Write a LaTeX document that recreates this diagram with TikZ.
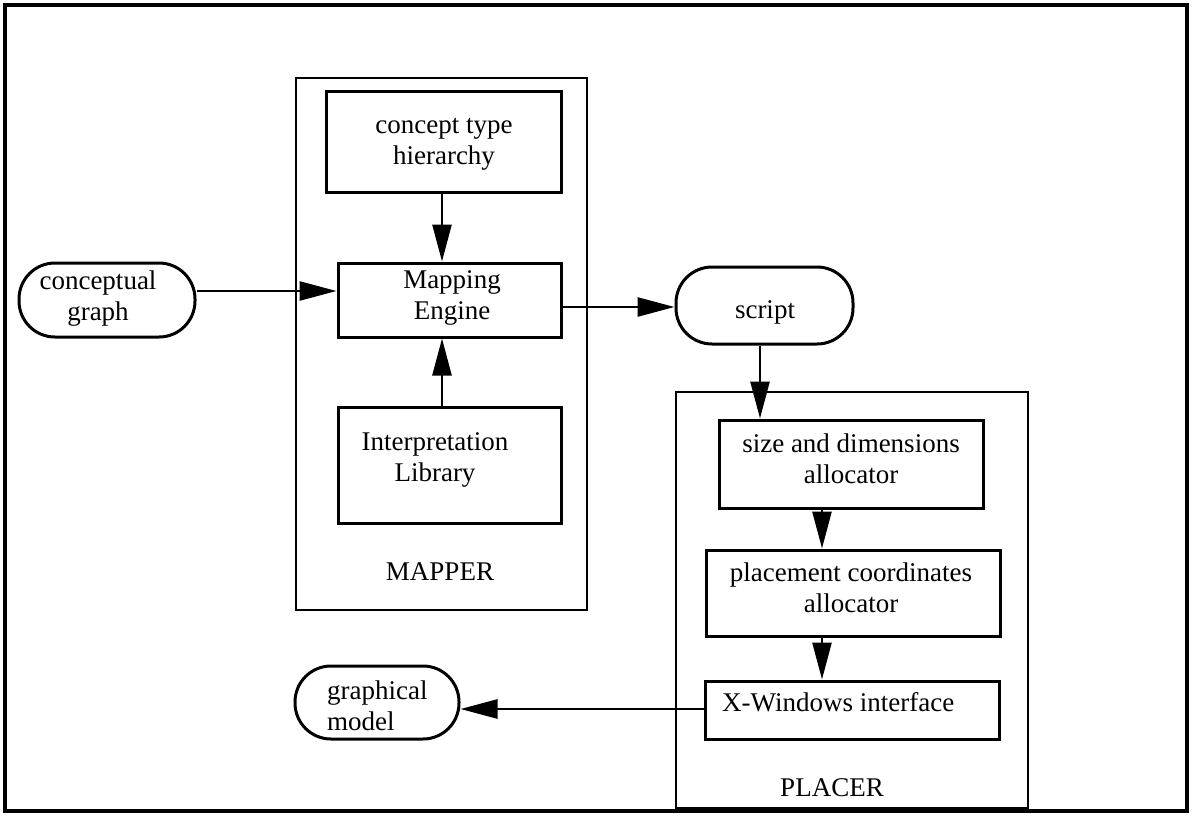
\documentclass[tikz,border=0pt]{standalone}
\usepackage{fontspec}
\setmainfont{Liberation Serif}
\usetikzlibrary{arrows.meta}
\begin{document}
\begin{tikzpicture}[x=1pt,y=-1pt,
  outline/.style={draw,line width=3.4pt,inner sep=0,rectangle},
  group/.style={draw,line width=2.3pt,inner sep=0,rectangle},
  box/.style={draw,line width=3pt,inner sep=0,rectangle},
  pill/.style={draw,line width=3pt,inner sep=0,rectangle,rounded corners=36pt},
  txt/.style={inner sep=0,font=\fontsize{27}{31}\selectfont,align=center},
  arr/.style={line width=2.6pt,-{Triangle[length=37pt,width=19pt]}}]
\useasboundingbox (0,0) rectangle (1192,816);

% outer frame and the two subsystem groups
\node[outline, minimum width=1182, minimum height=806] (border) at (596,408) {};
\node[group, minimum width=291, minimum height=532] (mapper) at (441.5,344) {};
\node[group, minimum width=352, minimum height=416] (placer) at (852,600) {};
\node[txt] (mapperlbl) at (440,572) {MAPPER};
\node[txt] (placerlbl) at (832,788) {PLACER};

% MAPPER components
\node[box, minimum width=235, minimum height=100] (cth) at (443.5,142) {};
\node[txt] (cthtxt) at (444,144) {concept type\\hierarchy};
\node[box, minimum width=223, minimum height=74] (me) at (449.5,300) {};
\node[txt] (metxt) at (452,298) {Mapping\\Engine};
\node[box, minimum width=223, minimum height=116] (il) at (449.5,465) {};
\node[txt] (iltxt) at (435,460) {Interpretation\\Library};

% inputs and outputs
\node[pill, minimum width=176, minimum height=74] (cg) at (107,300) {};
\node[txt] (cgtxt) at (98,299) {conceptual\\graph};
\node[pill, minimum width=177, minimum height=77] (script) at (764.5,305.5) {};
\node[txt] (scripttxt) at (765,312) {script};
\node[pill, minimum width=164, minimum height=73] (gm) at (377,702.5) {};
\node[txt, align=left, anchor=west] (gmtxt) at (327,705.5) {graphical\\model};

% PLACER components
\node[box, minimum width=264, minimum height=88] (sda) at (851,464) {};
\node[txt] (sdatxt) at (851,459) {size and dimensions\\allocator};
\node[box, minimum width=294, minimum height=86] (pca) at (853,593) {};
\node[txt] (pcatxt) at (851,588) {placement coordinates\\allocator};
\node[box, minimum width=294, minimum height=58] (xwi) at (852,710) {};
\node[txt, anchor=west] (xwitxt) at (722,702) {X-Windows interface};

% data flow
\draw[arr] ([yshift=9pt]cg.east) -- ([yshift=9pt]me.west);
\draw[arr] ([xshift=-1.5pt]cth.south) -- ([xshift=-7.5pt]me.north);
\draw[arr] ([xshift=-7.5pt]il.north) -- ([xshift=-7.5pt]me.south);
\draw[arr] ([yshift=-7pt]me.east) -- ([yshift=-1.5pt]script.west);
\draw[arr] ([xshift=-4.5pt]script.south) -- ([xshift=-91pt]sda.north);
\draw[arr] ([xshift=-29pt]sda.south) -- ([xshift=-31pt]pca.north);
\draw[arr] ([xshift=-31pt]pca.south) -- ([xshift=-30pt]xwi.north);
\draw[arr] ([yshift=1pt]xwi.west) -- ([yshift=-6.5pt]gm.east);
\end{tikzpicture}
\end{document}
